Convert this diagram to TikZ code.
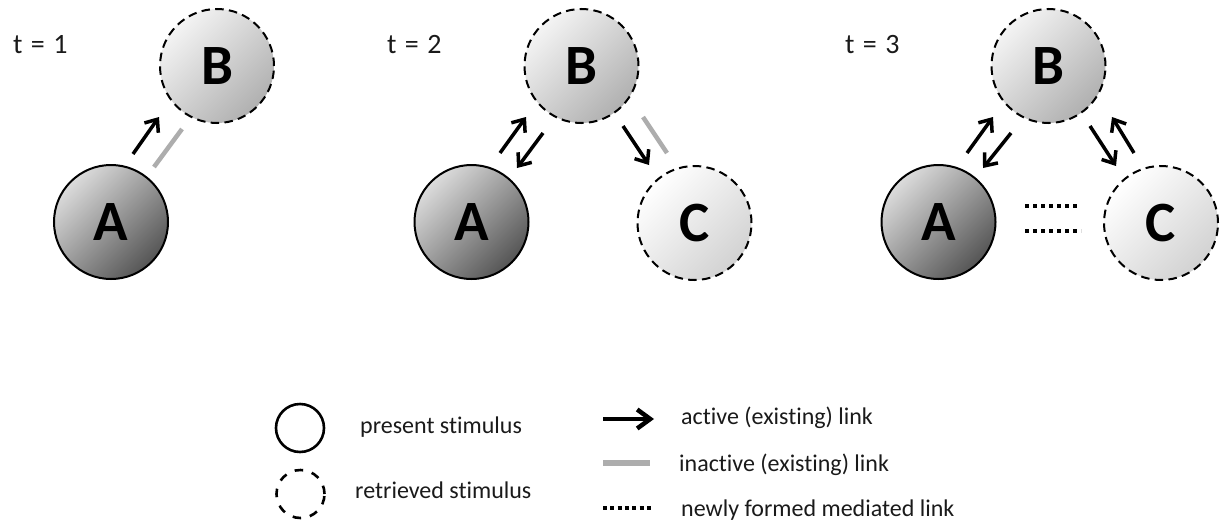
\documentclass[tikz,border=0pt]{standalone}
\usepackage{fontspec}
\setmainfont{Carlito}[Ligatures=NoCommon]
\usetikzlibrary{arrows.meta,calc}
\definecolor{aTop}{HTML}{DCDCDC}
\definecolor{aBot}{HTML}{555555}
\definecolor{bTop}{HTML}{F4F4F4}
\definecolor{bBot}{HTML}{B0B0B0}
\definecolor{cTop}{HTML}{FFFFFF}
\definecolor{cBot}{HTML}{D2D2D2}
\definecolor{inact}{HTML}{ADADAD}
\definecolor{txt}{HTML}{1A1A1A}
\begin{document}
\begin{tikzpicture}[x=1pt,y=-1pt,
  stim/.style={circle, minimum size=114pt, inner sep=0pt, line width=2pt,
    font=\fontsize{57}{60}\selectfont\bfseries},
  present/.style={stim, draw=black, top color=aTop, bottom color=aBot, shading angle=45},
  retrB/.style={stim, draw=black, dash pattern=on 8.5pt off 5.3pt, top color=bTop, bottom color=bBot, shading angle=45},
  retrC/.style={stim, draw=black, dash pattern=on 8.5pt off 5.3pt, top color=cTop, bottom color=cBot, shading angle=45},
  act/.style={line width=3.5pt, -{Straight Barb[length=10.5pt,width=17pt]}},
  inactive/.style={line width=4.5pt, draw=inact},
  mediated/.style={line width=4.3pt, dash pattern=on 4.3pt off 3.7pt},
  tlabel/.style={anchor=base west, inner sep=0pt, text=txt, font=\fontsize{28}{32}\selectfont},
  legtext/.style={anchor=base west, inner sep=0pt, text=txt, font=\fontsize{24}{28}\selectfont},
  legcirc/.style={circle, minimum size=48pt, inner sep=0pt, line width=2.6pt, draw=black}
]
\useasboundingbox (0,0) rectangle (1220,522);

% ---------- t = 1 ----------
\node[tlabel] (t1) at (13,53) {t\hspace{0.3em}=\hspace{0.3em}1};
\node[present] (A1) at (111,222) {A};
\node[retrB] (B1) at (217,66) {B};
\draw[act] ($(A1)+(22,-68)$) -- ($(B1)+(-58,51)$);
\draw[inactive] ($(A1)+(43,-55)$) -- ($(B1)+(-35,63)$);

% ---------- t = 2 ----------
\node[tlabel] (t2) at (387,53) {t\hspace{0.3em}=\hspace{0.3em}2};
\node[present] (A2) at (471.5,222) {A};
\node[retrB] (B2) at (581.5,66) {B};
\node[retrC] (C2) at (694.5,223) {C};
\draw[act] ($(A2)+(28.5,-69)$) -- ($(B2)+(-55.5,51)$);
\draw[act] ($(B2)+(-38.5,67)$) -- ($(A2)+(45.5,-54)$);
\draw[act] ($(B2)+(41.5,60)$) -- ($(C2)+(-45.5,-58)$);
\draw[inactive] ($(B2)+(61.5,51)$) -- ($(C2)+(-27.5,-70)$);

% ---------- t = 3 ----------
\node[tlabel] (t3) at (845,53) {t\hspace{0.3em}=\hspace{0.3em}3};
\node[present] (A3) at (938.5,222) {A};
\node[retrB] (B3) at (1048.5,66) {B};
\node[retrC] (C3) at (1161,223) {C};
\draw[act] ($(A3)+(28.5,-69)$) -- ($(B3)+(-55.5,51)$);
\draw[act] ($(B3)+(-37.5,67)$) -- ($(A3)+(44.5,-54)$);
\draw[act] ($(B3)+(41.5,60)$) -- ($(C3)+(-45,-57)$);
\draw[act] ($(C3)+(-27,-70)$) -- ($(B3)+(63.5,51)$);
\draw[mediated] ($(A3)+(86.5,-16)$) -- ($(C3)+(-81,-17)$);
\draw[mediated] ($(A3)+(86.5,9)$) -- ($(C3)+(-80,8)$);

% ---------- legend ----------
\node[legcirc] (lp) at (300,428) {};
\node[legcirc, dash pattern=on 8.5pt off 9pt] (lr) at (300.5,494) {};
\node[legtext] (lpt) at (360,433) {present stimulus};
\node[legtext] (lrt) at (355,498) {retrieved stimulus};

\coordinate (la1) at (603,419);
\coordinate (la2) at (654,419);
\coordinate (lg1) at (603,463);
\coordinate (lg2) at (650,463);
\coordinate (ld1) at (603,508);
\coordinate (ld2) at (651,508);
\draw[line width=4.5pt, -{Straight Barb[length=13pt,width=19pt]}] (la1) -- (la2);
\draw[inactive, line width=6pt] (lg1) -- (lg2);
\draw[mediated, line width=4pt, dash pattern=on 4pt off 3.3pt] (ld1) -- (ld2);
\node[legtext] (lat) at (681,424) {active (existing) link};
\node[legtext] (lgt) at (679,471) {inactive (existing) link};
\node[legtext] (ldt) at (681,516) {newly formed mediated link};
\end{tikzpicture}
\end{document}
